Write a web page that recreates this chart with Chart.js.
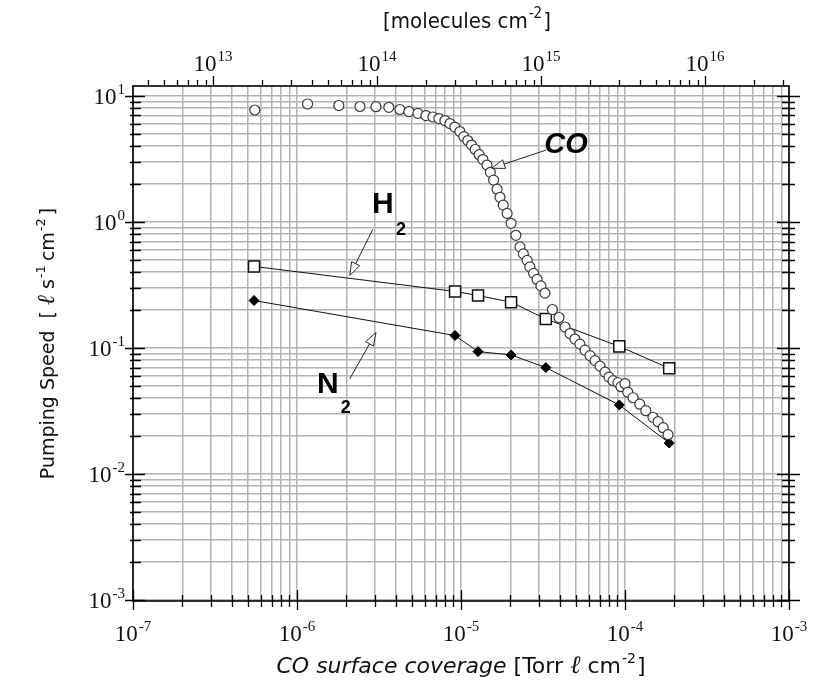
<!DOCTYPE html>
<html>
<head>
<meta charset="utf-8">
<script src="https://cdn.jsdelivr.net/npm/chart.js@4/dist/chart.umd.min.js"></script>
<style>
  html, body { margin: 0; padding: 0; background: #ffffff; }
  #wrap { width: 818px; height: 690px; }
</style>
</head>
<body>
<div id="wrap"><canvas id="chart" width="818" height="690"></canvas></div>
<script>
// CO surface coverage [Torr·ℓ/cm²] and pumping speed [ℓ/s/cm²] for CO
const coCoverage = [
  5.53e-7, 1.16e-6, 1.80e-6, 2.42e-6, 3.03e-6, 3.63e-6, 4.24e-6, 4.81e-6, 5.46e-6, 6.11e-6,
  6.74e-6, 7.33e-6, 7.98e-6, 8.56e-6, 9.18e-6, 9.85e-6, 1.04e-5, 1.10e-5, 1.16e-5, 1.22e-5,
  1.29e-5, 1.36e-5, 1.44e-5, 1.51e-5, 1.58e-5, 1.66e-5, 1.73e-5, 1.81e-5, 1.91e-5, 2.02e-5,
  2.16e-5, 2.29e-5, 2.40e-5, 2.53e-5, 2.63e-5, 2.77e-5, 2.91e-5, 3.07e-5, 3.25e-5, 3.61e-5,
  3.96e-5, 4.31e-5, 4.62e-5, 4.95e-5, 5.31e-5, 5.70e-5, 6.12e-5, 6.56e-5, 7.04e-5, 7.55e-5,
  7.99e-5, 8.45e-5, 9.06e-5, 9.45e-5, 1.00e-4, 1.04e-4, 1.12e-4, 1.23e-4, 1.34e-4, 1.48e-4,
  1.59e-4, 1.71e-4, 1.83e-4
];
const coSpeed = [
  7.74, 8.64, 8.40, 8.25, 8.22, 8.13, 7.81, 7.52, 7.28, 6.99,
  6.81, 6.62, 6.38, 6.04, 5.67, 5.22, 4.76, 4.43, 4.08, 3.76,
  3.42, 3.13, 2.83, 2.48, 2.15, 1.82, 1.57, 1.36, 1.17, 0.976,
  0.784, 0.635, 0.558, 0.496, 0.440, 0.391, 0.350, 0.311, 0.273, 0.202,
  0.1745, 0.1467, 0.1302, 0.1177, 0.1074, 0.0962, 0.0870, 0.0794, 0.0718, 0.0643,
  0.0587, 0.0550, 0.0530, 0.0493, 0.0521, 0.0446, 0.0403, 0.0358, 0.0318, 0.0282,
  0.0260, 0.0233, 0.0205
];

// H2 and N2 pumping speed measured at the same CO coverages
const gasCoverage = [5.47e-7, 9.2e-6, 1.27e-5, 2.02e-5, 3.29e-5, 9.23e-5, 1.86e-4];
const h2Speed = [0.444, 0.281, 0.261, 0.231, 0.170, 0.103, 0.069];
const n2Speed = [0.238, 0.1255, 0.0936, 0.0881, 0.0699, 0.0353, 0.0176];

// Axis ranges and decade labels
const xRange = [1e-7, 1e-3];
const yRange = [9.82e-4, 12.0];
const xDecades = [-7, -6, -5, -4, -3];
const yDecades = [-3, -2, -1, 0, 1];
const topDecades = [13, 14, 15, 16];
const MOLECULES_PER_TORR_L = 3.25e19;   // conversion for the top axis

// Callout labels (data coordinates)
const coLabelAt = [4.37e-5, 4.07];
const coArrow = [[3.30e-5, 3.72], [1.54e-5, 2.67]];
const h2LabelAt = [3.34e-6, 1.36];
const h2Arrow = [[2.90e-6, 0.875], [2.10e-6, 0.377]];
const n2LabelAt = [1.54e-6, 0.0512];
const n2Arrow = [[2.10e-6, 0.0571], [3.03e-6, 0.1326]];

const SERIF = '"Liberation Serif", "DejaVu Serif", serif';
const SANS = '"DejaVu Sans", "Liberation Sans", sans-serif';
const NARROW = '"Liberation Sans Narrow", "DejaVu Sans Condensed", "Liberation Sans", sans-serif';

function logTicks(min, max) {
  const out = [];
  const e0 = Math.floor(Math.log10(min)), e1 = Math.ceil(Math.log10(max));
  for (let e = e0; e <= e1; e++) {
    for (let k = 1; k <= 9; k++) {
      const v = k * Math.pow(10, e);
      if (v >= min * 0.9999 && v <= max * 1.0001) out.push({ value: v, major: k === 1 });
    }
  }
  return out;
}
const isDecade = v => Math.abs(Math.log10(v) - Math.round(Math.log10(v))) < 1e-6;

// Draw a run of text pieces; each piece may be raised (superscript)
function drawRuns(ctx, runs, x, baseline, align) {
  let total = 0;
  runs.forEach(r => { ctx.font = r.font; r.w = ctx.measureText(r.t).width + (r.gap || 0); total += r.w; });
  let cx = align === 'right' ? x - total : align === 'center' ? x - total / 2 : x;
  ctx.textAlign = 'left';
  ctx.textBaseline = 'alphabetic';
  runs.forEach(r => {
    ctx.font = r.font;
    ctx.fillText(r.t, cx + (r.pre || 0), baseline - (r.rise || 0));
    cx += r.w;
  });
}
function powerRuns(exp) {
  return [
    { t: '10', font: '23px ' + SERIF },
    { t: String(exp), font: '15px ' + SERIF, rise: 10, pre: 1, gap: 1 }
  ];
}

function drawArrow(ctx, x0, y0, x1, y1) {
  const ang = Math.atan2(y1 - y0, x1 - x0);
  const len = 13, half = 4.5;
  const bx = x1 - len * Math.cos(ang), by = y1 - len * Math.sin(ang);
  ctx.beginPath();
  ctx.moveTo(x0, y0);
  ctx.lineTo(bx, by);
  ctx.stroke();
  ctx.beginPath();
  ctx.moveTo(x1, y1);
  ctx.lineTo(bx + half * Math.sin(ang), by - half * Math.cos(ang));
  ctx.lineTo(bx - half * Math.sin(ang), by + half * Math.cos(ang));
  ctx.closePath();
  ctx.fillStyle = '#ffffff';
  ctx.fill();
  ctx.stroke();
}

const framePlugin = {
  id: 'frame',
  afterDraw(chart) {
    const { ctx, chartArea: a, scales } = chart;
    const sx = scales.x, sy = scales.y, st = scales.x2;
    ctx.save();
    ctx.strokeStyle = '#000000';
    ctx.fillStyle = '#111111';

    // tick marks
    ctx.lineWidth = 1.3;
    ctx.beginPath();
    sx.ticks.forEach(t => {
      const p = Math.round(sx.getPixelForValue(t.value)) + 0.5;
      const m = isDecade(t.value);
      ctx.moveTo(p, a.bottom - (m ? 11 : 6));
      ctx.lineTo(p, a.bottom + (m ? 9 : 6));
    });
    sy.ticks.forEach(t => {
      const p = Math.round(sy.getPixelForValue(t.value)) + 0.5;
      const m = isDecade(t.value);
      ctx.moveTo(a.left - (m ? 8 : 3), p);
      ctx.lineTo(a.left + (m ? 12 : 8), p);
      ctx.moveTo(a.right - (m ? 12 : 7), p);
      ctx.lineTo(a.right + (m ? 11 : 6), p);
    });
    st.ticks.forEach(t => {
      const p = Math.round(st.getPixelForValue(t.value)) + 0.5;
      const m = isDecade(t.value);
      ctx.moveTo(p, a.top);
      ctx.lineTo(p, a.top - (m ? 10 : 6));
    });
    ctx.stroke();

    // plot frame
    ctx.lineWidth = 1.6;
    ctx.strokeRect(a.left, a.top, a.right - a.left, a.bottom - a.top);

    // decade labels
    xDecades.forEach(e => drawRuns(ctx, powerRuns(e), sx.getPixelForValue(Math.pow(10, e)), a.bottom + 40, 'center'));
    yDecades.forEach(e => drawRuns(ctx, powerRuns(e), a.left - 8, sy.getPixelForValue(Math.pow(10, e)) + 8, 'right'));
    topDecades.forEach(e => drawRuns(ctx, powerRuns(e), st.getPixelForValue(Math.pow(10, e)), a.top - 15, 'center'));

    // axis titles
    const midX = (a.left + a.right) / 2;
    drawRuns(ctx, [
      { t: '[molecules ', font: '22px ' + NARROW },
      { t: 'cm', font: '22px ' + NARROW },
      { t: '-2', font: '15px ' + NARROW, rise: 10, pre: 1, gap: 2 },
      { t: ']', font: '22px ' + NARROW }
    ], midX + 6, 28, 'center');

    drawRuns(ctx, [
      { t: 'CO surface coverage ', font: 'oblique 22px ' + SANS },
      { t: '[Torr ', font: '22px ' + SANS },
      { t: 'ℓ', font: 'italic 25px ' + SERIF, gap: 7 },
      { t: 'cm', font: '22px ' + SANS },
      { t: '-2', font: '14px ' + SANS, rise: 10, pre: 1, gap: 2 },
      { t: ']', font: '22px ' + SANS }
    ], midX, 673, 'center');

    ctx.save();
    ctx.translate(54, (a.top + a.bottom) / 2);
    ctx.rotate(-Math.PI / 2);
    drawRuns(ctx, [
      { t: 'Pumping Speed  [ ', font: '19px ' + SANS },
      { t: 'ℓ', font: 'italic 24px ' + SERIF, gap: 6 },
      { t: 's', font: '19px ' + SANS },
      { t: '-1', font: '13px ' + SANS, rise: 9, pre: 1, gap: 5 },
      { t: 'cm', font: '19px ' + SANS },
      { t: '-2', font: '13px ' + SANS, rise: 9, pre: 1, gap: 4 },
      { t: ']', font: '19px ' + SANS }
    ], 0, 0, 'center');
    ctx.restore();

    // callouts
    const P = (pt) => [sx.getPixelForValue(pt[0]), sy.getPixelForValue(pt[1])];
    ctx.lineWidth = 1;
    ctx.strokeStyle = '#222222';
    [coArrow, h2Arrow, n2Arrow].forEach(ar => {
      const p0 = P(ar[0]), p1 = P(ar[1]);
      drawArrow(ctx, p0[0], p0[1], p1[0], p1[1]);
    });
    ctx.fillStyle = '#000000';
    ctx.textAlign = 'center';
    ctx.textBaseline = 'middle';
    let p = P(coLabelAt);
    ctx.font = 'bold italic 29px "Liberation Sans", ' + SANS;
    ctx.fillText('CO', p[0], p[1]);
    p = P(h2LabelAt);
    ctx.font = 'bold 30px "Liberation Sans", ' + SANS;
    ctx.fillText('H', p[0], p[1]);
    ctx.font = 'bold 18px "Liberation Sans", ' + SANS;
    ctx.fillText('2', p[0] + 18, p[1] + 25);
    p = P(n2LabelAt);
    ctx.font = 'bold 30px "Liberation Sans", ' + SANS;
    ctx.fillText('N', p[0], p[1]);
    ctx.font = 'bold 18px "Liberation Sans", ' + SANS;
    ctx.fillText('2', p[0] + 18, p[1] + 23);
    ctx.restore();
  }
};

const gridStyle = { color: '#b4b4b4', lineWidth: 1.5, drawTicks: false };

new Chart(document.getElementById('chart'), {
  type: 'scatter',
  data: {
    datasets: [
      {
        label: 'CO',
        data: coCoverage.map((c, i) => ({ x: c, y: coSpeed[i] })),
        pointStyle: 'circle', pointRadius: 5, borderWidth: 1.2,
        borderColor: '#3a3a3a', backgroundColor: '#ffffff', showLine: false
      },
      {
        label: 'H2',
        data: gasCoverage.map((c, i) => ({ x: c, y: h2Speed[i] })),
        pointStyle: 'rect', pointRadius: 7.8, pointBorderWidth: 1.5, borderWidth: 1,
        borderColor: '#111111', pointBackgroundColor: '#ffffff', pointBorderColor: '#111111',
        showLine: true, fill: false
      },
      {
        label: 'N2',
        data: gasCoverage.map((c, i) => ({ x: c, y: n2Speed[i] })),
        pointStyle: 'rectRot', pointRadius: 5, pointBorderWidth: 1, borderWidth: 1,
        borderColor: '#111111', pointBackgroundColor: '#000000', pointBorderColor: '#000000',
        showLine: true, fill: false
      }
    ]
  },
  options: {
    responsive: false,
    devicePixelRatio: 1,
    animation: false,
    layout: { padding: 0 },
    plugins: { legend: { display: false }, tooltip: { enabled: false } },
    elements: { line: { tension: 0 } },
    scales: {
      x: {
        type: 'logarithmic', position: 'bottom', min: xRange[0], max: xRange[1],
        afterBuildTicks: s => { s.ticks = logTicks(s.min, s.max); },
        afterFit: s => { s.height = 89; },
        ticks: { display: false }, grid: gridStyle, border: { display: false }
      },
      x2: {
        type: 'logarithmic', position: 'top',
        min: xRange[0] * MOLECULES_PER_TORR_L, max: xRange[1] * MOLECULES_PER_TORR_L,
        afterBuildTicks: s => { s.ticks = logTicks(s.min, s.max); },
        afterFit: s => { s.height = 86; },
        ticks: { display: false }, grid: { display: false, drawTicks: false }, border: { display: false }
      },
      y: {
        type: 'logarithmic', position: 'left', min: yRange[0], max: yRange[1],
        afterBuildTicks: s => { s.ticks = logTicks(s.min, s.max); },
        afterFit: s => { s.width = 133; },
        ticks: { display: false }, grid: gridStyle, border: { display: false }
      },
      y2: {
        type: 'logarithmic', position: 'right', min: yRange[0], max: yRange[1],
        afterBuildTicks: s => { s.ticks = logTicks(s.min, s.max); },
        afterFit: s => { s.width = 29; },
        ticks: { display: false }, grid: { display: false, drawTicks: false }, border: { display: false }
      }
    }
  },
  plugins: [framePlugin]
});
</script>
</body>
</html>
